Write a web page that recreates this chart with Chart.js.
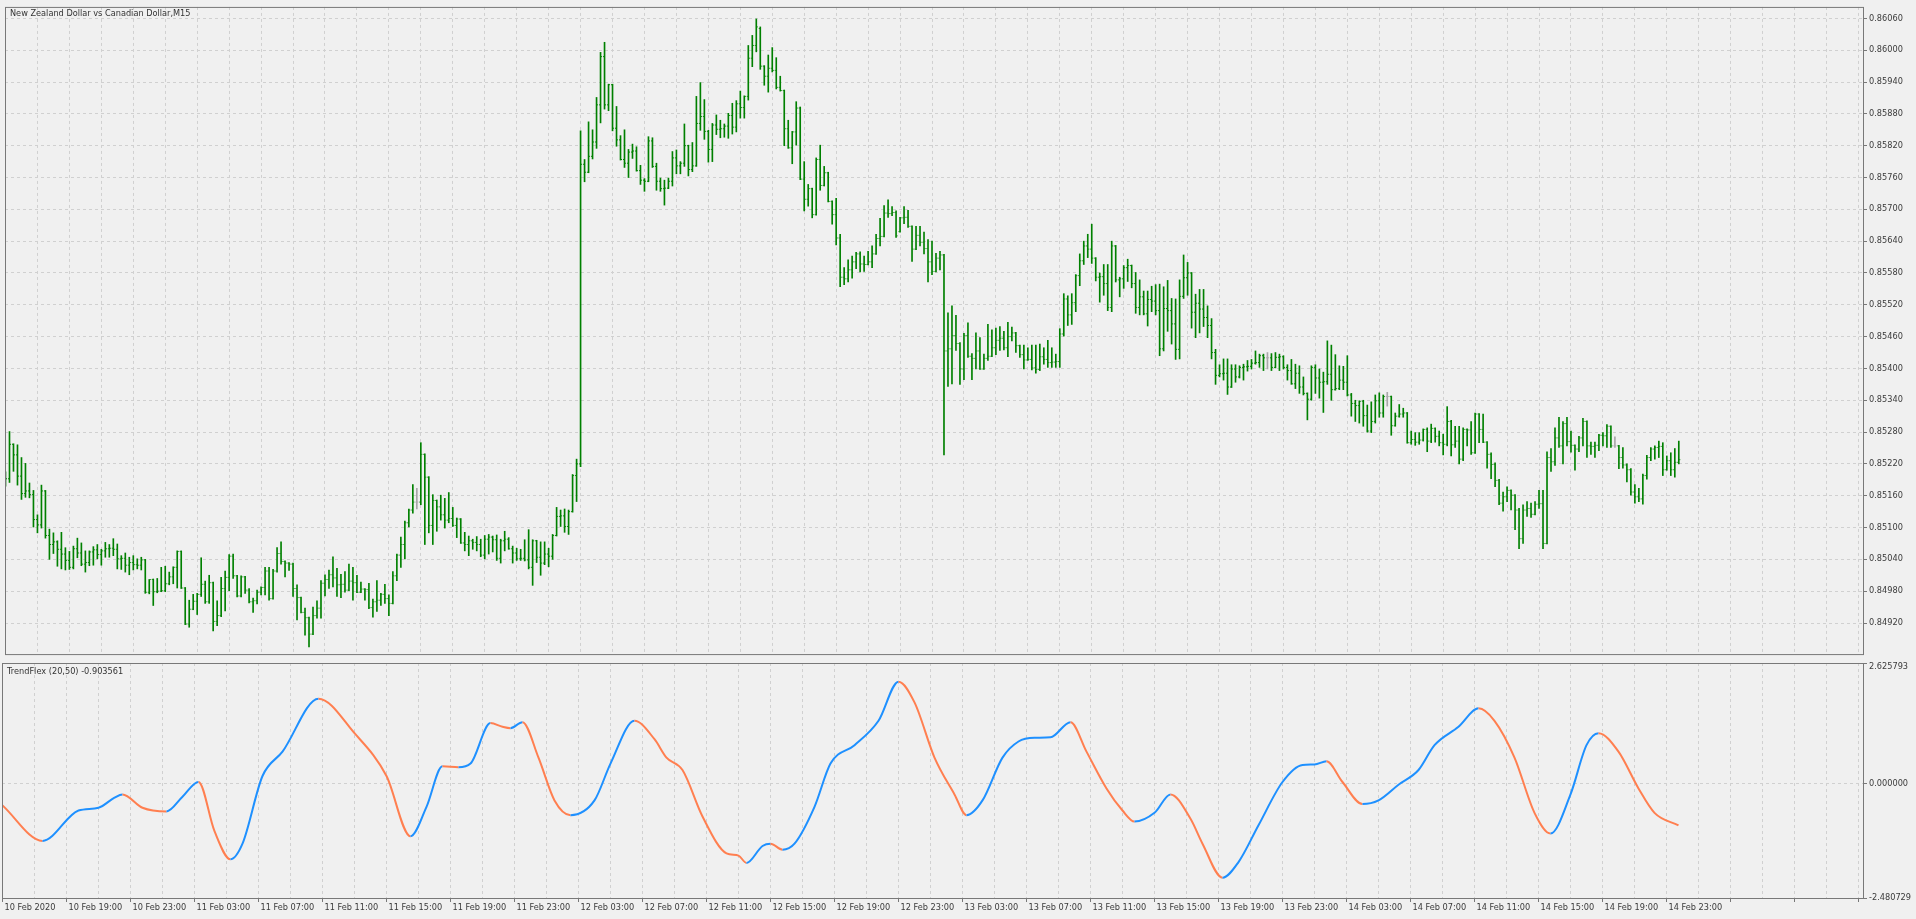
<!DOCTYPE html>
<html>
<head>
<meta charset="utf-8">
<script src="https://cdn.jsdelivr.net/npm/chart.js@4.4.1/dist/chart.umd.min.js"></script>
<style>
  html, body { margin: 0; padding: 0; background: #F0F0F0; overflow: hidden; }
  #wrap { position: relative; width: 1916px; height: 919px; }
  #priceChart { position: absolute; left: 0; top: 0; }
  #trendChart { position: absolute; left: 0; top: 650px; }
</style>
</head>
<body>
<div id="wrap">
  <canvas id="priceChart" width="1916" height="661"></canvas>
  <canvas id="trendChart" width="1916" height="269"></canvas>
</div>
<script>
// NZDCAD M15 bars, 10 Feb 2020 15:00 .. 14 Feb 2020 23:45 (420 bars)
const opens = [
0.85185,0.85192,0.85257,0.85237,0.85197,0.85164,0.85169,0.85162,0.85115,0.85105,0.85169,0.85085,0.85068,0.85073,0.85059,0.85050,0.85038,0.85025,0.85060,0.85052,
0.85031,0.85034,0.85054,0.85058,0.85049,0.85056,0.85060,0.85061,0.85059,0.85041,0.85042,0.85029,0.85034,0.85030,0.85029,0.85039,0.84978,0.85002,0.84979,0.84980,
0.84981,0.84994,0.85007,0.85025,0.85055,0.84986,0.84918,0.84946,0.84961,0.84974,0.84993,0.84960,0.84996,0.84923,0.84934,0.84985,0.85006,0.85046,0.85009,0.84971,
0.85007,0.84982,0.84960,0.84962,0.84978,0.84987,0.85018,0.84966,0.85018,0.85051,0.85036,0.85033,0.85031,0.84985,0.84968,0.84940,0.84930,0.84899,0.84934,0.84948,
0.84995,0.85002,0.85011,0.85005,0.84992,0.84993,0.84982,0.84999,0.84996,0.84978,0.84984,0.84983,0.84949,0.84960,0.84963,0.84974,0.84966,0.84957,0.85009,0.85048,
0.85068,0.85109,0.85133,0.85148,0.85148,0.85238,0.85195,0.85104,0.85151,0.85139,0.85124,0.85114,0.85117,0.85104,0.85116,0.85071,0.85068,0.85075,0.85072,0.85068,
0.85048,0.85078,0.85082,0.85077,0.85042,0.85075,0.85078,0.85060,0.85052,0.85041,0.85042,0.85039,0.85025,0.85075,0.85044,0.85033,0.85050,0.85046,0.85085,0.85121,
0.85122,0.85102,0.85130,0.85198,0.85220,0.85785,0.85770,0.85800,0.85827,0.85897,0.85988,0.85897,0.85935,0.85853,0.85831,0.85794,0.85787,0.85808,0.85810,0.85773,
0.85755,0.85753,0.85829,0.85781,0.85753,0.85739,0.85740,0.85753,0.85797,0.85782,0.85787,0.85820,0.85775,0.85782,0.85862,0.85875,0.85847,0.85813,0.85859,0.85851,
0.85852,0.85857,0.85877,0.85855,0.85899,0.85892,0.85913,0.85985,0.86009,0.86041,0.85970,0.85951,0.85966,0.85962,0.85930,0.85924,0.85852,0.85816,0.85846,0.85891,
0.85757,0.85719,0.85739,0.85690,0.85794,0.85745,0.85769,0.85715,0.85690,0.85646,0.85572,0.85569,0.85586,0.85601,0.85616,0.85597,0.85596,0.85601,0.85616,0.85645,
0.85649,0.85693,0.85692,0.85694,0.85658,0.85684,0.85685,0.85668,0.85625,0.85651,0.85638,0.85626,0.85601,0.85583,0.85608,0.85614,0.85433,0.85437,0.85462,0.85447,
0.85399,0.85462,0.85423,0.85419,0.85433,0.85399,0.85419,0.85423,0.85439,0.85453,0.85457,0.85439,0.85460,0.85467,0.85443,0.85426,0.85416,0.85417,0.85401,0.85398,
0.85422,0.85417,0.85411,0.85412,0.85413,0.85465,0.85531,0.85501,0.85524,0.85575,0.85603,0.85631,0.85625,0.85608,0.85572,0.85573,0.85560,0.85515,0.85631,0.85567,
0.85569,0.85590,0.85594,0.85560,0.85515,0.85535,0.85503,0.85530,0.85527,0.85509,0.85437,0.85513,0.85509,0.85484,0.85436,0.85536,0.85571,0.85580,0.85506,0.85523,
0.85512,0.85496,0.85481,0.85430,0.85387,0.85390,0.85391,0.85365,0.85399,0.85384,0.85402,0.85403,0.85404,0.85410,0.85411,0.85424,0.85420,0.85420,0.85402,0.85421,
0.85422,0.85402,0.85396,0.85371,0.85391,0.85365,0.85353,0.85342,0.85402,0.85382,0.85374,0.85375,0.85389,0.85360,0.85362,0.85378,0.85374,0.85350,0.85334,0.85330,
0.85338,0.85311,0.85282,0.85300,0.85339,0.85316,0.85347,0.85347,0.85292,0.85310,0.85314,0.85316,0.85260,0.85266,0.85261,0.85265,0.85285,0.85263,0.85287,0.85272,
0.85260,0.85257,0.85300,0.85256,0.85263,0.85229,0.85285,0.85284,0.85241,0.85314,0.85285,0.85261,0.85238,0.85219,0.85189,0.85146,0.85158,0.85170,0.85161,0.85133,
0.85079,0.85133,0.85136,0.85125,0.85144,0.85145,0.85070,0.85232,0.85224,0.85269,0.85254,0.85296,0.85262,0.85255,0.85248,0.85269,0.85300,0.85254,0.85253,0.85255,
0.85274,0.85273,0.85291,0.85254,0.85254,0.85232,0.85218,0.85209,0.85167,0.85158,0.85154,0.85198,0.85232,0.85248,0.85251,0.85253,0.85209,0.85226,0.85209,0.85223
];
const highs = [
0.85205,0.85281,0.85258,0.85256,0.85232,0.85221,0.85184,0.85170,0.85124,0.85180,0.85170,0.85097,0.85090,0.85075,0.85091,0.85062,0.85055,0.85065,0.85080,0.85071,
0.85056,0.85056,0.85064,0.85068,0.85059,0.85072,0.85068,0.85079,0.85069,0.85047,0.85052,0.85044,0.85047,0.85041,0.85044,0.85040,0.85002,0.85003,0.85004,0.85025,
0.85027,0.85016,0.85026,0.85056,0.85056,0.84987,0.84963,0.84974,0.84976,0.85043,0.84999,0.85010,0.84997,0.84962,0.85006,0.85018,0.85049,0.85050,0.85010,0.85009,
0.85008,0.84985,0.84967,0.84982,0.84988,0.85025,0.85025,0.85021,0.85062,0.85073,0.85037,0.85034,0.85033,0.84992,0.84969,0.84948,0.84931,0.84950,0.84962,0.85000,
0.85011,0.85020,0.85045,0.85023,0.85012,0.85017,0.85031,0.85025,0.85010,0.84997,0.84985,0.84995,0.84965,0.85000,0.84976,0.84993,0.84973,0.85017,0.85050,0.85082,
0.85112,0.85135,0.85181,0.85174,0.85260,0.85239,0.85196,0.85162,0.85152,0.85161,0.85155,0.85166,0.85138,0.85118,0.85117,0.85091,0.85084,0.85078,0.85083,0.85078,
0.85085,0.85087,0.85084,0.85086,0.85078,0.85093,0.85081,0.85065,0.85061,0.85059,0.85077,0.85096,0.85077,0.85076,0.85073,0.85073,0.85061,0.85087,0.85138,0.85133,
0.85135,0.85133,0.85200,0.85229,0.85848,0.85794,0.85865,0.85850,0.85911,0.85996,0.86015,0.85936,0.85936,0.85894,0.85839,0.85850,0.85813,0.85823,0.85818,0.85783,
0.85758,0.85837,0.85835,0.85787,0.85759,0.85755,0.85759,0.85809,0.85812,0.85790,0.85861,0.85821,0.85826,0.85913,0.85939,0.85907,0.85849,0.85862,0.85878,0.85868,
0.85861,0.85881,0.85900,0.85905,0.85923,0.85914,0.86009,0.86028,0.86059,0.86044,0.85971,0.85991,0.86005,0.85986,0.85951,0.85925,0.85868,0.85847,0.85903,0.85893,
0.85790,0.85747,0.85740,0.85797,0.85821,0.85781,0.85770,0.85716,0.85721,0.85653,0.85590,0.85605,0.85612,0.85619,0.85620,0.85612,0.85621,0.85631,0.85653,0.85683,
0.85707,0.85718,0.85705,0.85697,0.85685,0.85705,0.85698,0.85669,0.85668,0.85668,0.85657,0.85643,0.85640,0.85617,0.85621,0.85615,0.85505,0.85518,0.85500,0.85449,
0.85466,0.85486,0.85428,0.85467,0.85458,0.85427,0.85483,0.85473,0.85476,0.85479,0.85470,0.85487,0.85478,0.85468,0.85444,0.85444,0.85439,0.85444,0.85444,0.85446,
0.85439,0.85453,0.85439,0.85427,0.85475,0.85541,0.85537,0.85541,0.85577,0.85616,0.85640,0.85653,0.85672,0.85609,0.85580,0.85596,0.85596,0.85640,0.85632,0.85572,
0.85594,0.85606,0.85595,0.85581,0.85567,0.85546,0.85546,0.85555,0.85558,0.85559,0.85554,0.85566,0.85532,0.85531,0.85567,0.85614,0.85600,0.85581,0.85540,0.85549,
0.85549,0.85518,0.85494,0.85436,0.85407,0.85418,0.85418,0.85407,0.85407,0.85405,0.85408,0.85415,0.85417,0.85433,0.85427,0.85427,0.85430,0.85428,0.85430,0.85427,
0.85424,0.85407,0.85417,0.85408,0.85405,0.85384,0.85354,0.85405,0.85407,0.85399,0.85393,0.85452,0.85444,0.85426,0.85405,0.85404,0.85424,0.85353,0.85340,0.85339,
0.85340,0.85331,0.85337,0.85350,0.85354,0.85350,0.85355,0.85348,0.85316,0.85332,0.85325,0.85317,0.85282,0.85279,0.85279,0.85286,0.85288,0.85295,0.85288,0.85282,
0.85276,0.85328,0.85302,0.85291,0.85291,0.85288,0.85286,0.85300,0.85316,0.85315,0.85314,0.85262,0.85241,0.85222,0.85191,0.85167,0.85177,0.85171,0.85162,0.85136,
0.85143,0.85149,0.85146,0.85149,0.85170,0.85170,0.85243,0.85249,0.85288,0.85308,0.85300,0.85308,0.85282,0.85256,0.85272,0.85306,0.85301,0.85261,0.85261,0.85276,
0.85279,0.85294,0.85292,0.85271,0.85255,0.85251,0.85220,0.85211,0.85181,0.85174,0.85201,0.85236,0.85251,0.85254,0.85263,0.85260,0.85235,0.85241,0.85249,0.85263
];
const lows = [
0.85178,0.85185,0.85206,0.85180,0.85153,0.85157,0.85156,0.85101,0.85090,0.85099,0.85080,0.85040,0.85051,0.85027,0.85022,0.85020,0.85021,0.85022,0.85043,0.85028,
0.85016,0.85028,0.85029,0.85041,0.85029,0.85044,0.85044,0.85047,0.85022,0.85021,0.85016,0.85011,0.85020,0.85022,0.85020,0.84976,0.84975,0.84953,0.84977,0.84979,
0.84979,0.84992,0.84994,0.84986,0.84985,0.84917,0.84912,0.84945,0.84936,0.84970,0.84957,0.84957,0.84905,0.84915,0.84932,0.84943,0.84981,0.85004,0.84969,0.84969,
0.84976,0.84958,0.84940,0.84956,0.84973,0.84973,0.84963,0.84965,0.85016,0.85031,0.85007,0.85019,0.84970,0.84926,0.84939,0.84897,0.84875,0.84898,0.84929,0.84929,
0.84971,0.84985,0.84988,0.84970,0.84968,0.84978,0.84981,0.84963,0.84977,0.84977,0.84963,0.84947,0.84931,0.84942,0.84953,0.84957,0.84934,0.84956,0.85000,0.85025,
0.85041,0.85101,0.85127,0.85135,0.85143,0.85068,0.85090,0.85068,0.85093,0.85114,0.85099,0.85109,0.85102,0.85081,0.85070,0.85056,0.85047,0.85059,0.85056,0.85045,
0.85041,0.85050,0.85054,0.85038,0.85033,0.85056,0.85059,0.85033,0.85038,0.85038,0.85037,0.85022,0.84991,0.85034,0.85010,0.85030,0.85026,0.85040,0.85084,0.85102,
0.85091,0.85087,0.85129,0.85149,0.85215,0.85752,0.85769,0.85795,0.85815,0.85863,0.85889,0.85886,0.85848,0.85819,0.85793,0.85779,0.85760,0.85796,0.85772,0.85747,
0.85734,0.85752,0.85779,0.85736,0.85734,0.85708,0.85739,0.85744,0.85767,0.85767,0.85781,0.85763,0.85771,0.85781,0.85849,0.85832,0.85789,0.85790,0.85841,0.85835,
0.85836,0.85834,0.85842,0.85846,0.85872,0.85872,0.85906,0.85969,0.85997,0.85964,0.85934,0.85921,0.85959,0.85927,0.85923,0.85820,0.85815,0.85786,0.85821,0.85756,
0.85697,0.85706,0.85684,0.85689,0.85736,0.85744,0.85714,0.85672,0.85633,0.85554,0.85558,0.85563,0.85570,0.85588,0.85582,0.85583,0.85595,0.85590,0.85615,0.85631,
0.85648,0.85685,0.85688,0.85647,0.85657,0.85673,0.85666,0.85602,0.85624,0.85631,0.85616,0.85563,0.85577,0.85582,0.85586,0.85237,0.85366,0.85371,0.85434,0.85370,
0.85379,0.85421,0.85379,0.85399,0.85398,0.85398,0.85415,0.85422,0.85426,0.85434,0.85435,0.85422,0.85452,0.85430,0.85421,0.85399,0.85415,0.85397,0.85391,0.85396,
0.85408,0.85402,0.85402,0.85402,0.85402,0.85461,0.85481,0.85483,0.85507,0.85556,0.85596,0.85609,0.85598,0.85565,0.85525,0.85538,0.85509,0.85507,0.85563,0.85535,
0.85551,0.85564,0.85552,0.85504,0.85501,0.85501,0.85480,0.85507,0.85501,0.85424,0.85433,0.85470,0.85446,0.85417,0.85418,0.85532,0.85538,0.85476,0.85458,0.85467,
0.85479,0.85458,0.85418,0.85370,0.85384,0.85378,0.85351,0.85364,0.85374,0.85382,0.85378,0.85395,0.85399,0.85408,0.85402,0.85396,0.85399,0.85396,0.85401,0.85396,
0.85399,0.85378,0.85370,0.85362,0.85353,0.85350,0.85303,0.85340,0.85353,0.85344,0.85317,0.85370,0.85340,0.85359,0.85360,0.85360,0.85348,0.85310,0.85300,0.85297,
0.85291,0.85280,0.85279,0.85297,0.85308,0.85308,0.85329,0.85274,0.85291,0.85308,0.85308,0.85259,0.85257,0.85255,0.85257,0.85263,0.85243,0.85260,0.85261,0.85254,
0.85237,0.85254,0.85235,0.85251,0.85220,0.85226,0.85254,0.85238,0.85240,0.85260,0.85260,0.85212,0.85192,0.85177,0.85143,0.85131,0.85149,0.85133,0.85096,0.85060,
0.85070,0.85121,0.85119,0.85124,0.85136,0.85060,0.85069,0.85206,0.85217,0.85251,0.85220,0.85254,0.85242,0.85208,0.85243,0.85254,0.85232,0.85238,0.85232,0.85245,
0.85254,0.85251,0.85251,0.85251,0.85211,0.85212,0.85186,0.85161,0.85146,0.85149,0.85144,0.85191,0.85226,0.85229,0.85232,0.85198,0.85208,0.85198,0.85195,0.85220
];
const closes = [
0.85192,0.85257,0.85237,0.85197,0.85164,0.85169,0.85162,0.85115,0.85105,0.85169,0.85085,0.85068,0.85073,0.85059,0.85050,0.85038,0.85025,0.85060,0.85052,0.85031,
0.85034,0.85054,0.85058,0.85049,0.85056,0.85060,0.85061,0.85059,0.85041,0.85042,0.85029,0.85034,0.85030,0.85029,0.85039,0.84978,0.85002,0.84979,0.84980,0.84981,
0.84994,0.85007,0.85025,0.85055,0.84986,0.84918,0.84946,0.84961,0.84974,0.84993,0.84960,0.84996,0.84923,0.84934,0.84985,0.85006,0.85046,0.85009,0.84971,0.85007,
0.84982,0.84960,0.84962,0.84978,0.84987,0.85018,0.84966,0.85018,0.85051,0.85036,0.85033,0.85031,0.84985,0.84968,0.84940,0.84930,0.84899,0.84934,0.84948,0.84995,
0.85002,0.85011,0.85005,0.84992,0.84993,0.84982,0.84999,0.84996,0.84978,0.84984,0.84983,0.84949,0.84960,0.84963,0.84974,0.84966,0.84957,0.85009,0.85048,0.85068,
0.85109,0.85133,0.85148,0.85148,0.85238,0.85195,0.85104,0.85151,0.85139,0.85124,0.85114,0.85117,0.85104,0.85116,0.85071,0.85068,0.85075,0.85072,0.85068,0.85048,
0.85078,0.85082,0.85077,0.85042,0.85075,0.85078,0.85060,0.85052,0.85041,0.85042,0.85039,0.85025,0.85075,0.85044,0.85033,0.85050,0.85046,0.85085,0.85121,0.85122,
0.85102,0.85130,0.85198,0.85220,0.85785,0.85770,0.85800,0.85827,0.85897,0.85988,0.85897,0.85935,0.85853,0.85831,0.85794,0.85787,0.85808,0.85810,0.85773,0.85755,
0.85753,0.85829,0.85781,0.85753,0.85739,0.85740,0.85753,0.85797,0.85782,0.85787,0.85820,0.85775,0.85782,0.85862,0.85875,0.85847,0.85813,0.85859,0.85851,0.85852,
0.85857,0.85877,0.85855,0.85899,0.85892,0.85913,0.85985,0.86009,0.86044,0.85970,0.85951,0.85966,0.85962,0.85930,0.85924,0.85852,0.85816,0.85846,0.85891,0.85757,
0.85719,0.85739,0.85690,0.85794,0.85745,0.85769,0.85715,0.85690,0.85646,0.85572,0.85569,0.85586,0.85601,0.85616,0.85597,0.85596,0.85601,0.85616,0.85645,0.85649,
0.85693,0.85692,0.85694,0.85650,0.85684,0.85685,0.85668,0.85625,0.85651,0.85638,0.85626,0.85601,0.85583,0.85608,0.85614,0.85433,0.85437,0.85462,0.85447,0.85399,
0.85462,0.85423,0.85419,0.85433,0.85399,0.85419,0.85423,0.85439,0.85453,0.85457,0.85439,0.85460,0.85467,0.85443,0.85426,0.85416,0.85417,0.85401,0.85398,0.85422,
0.85417,0.85411,0.85412,0.85413,0.85465,0.85531,0.85501,0.85524,0.85575,0.85603,0.85631,0.85625,0.85608,0.85572,0.85573,0.85560,0.85515,0.85631,0.85567,0.85569,
0.85590,0.85594,0.85560,0.85515,0.85535,0.85503,0.85530,0.85527,0.85509,0.85437,0.85513,0.85509,0.85484,0.85436,0.85536,0.85571,0.85580,0.85506,0.85523,0.85512,
0.85496,0.85481,0.85430,0.85387,0.85390,0.85391,0.85365,0.85399,0.85384,0.85402,0.85403,0.85404,0.85410,0.85411,0.85424,0.85420,0.85420,0.85402,0.85421,0.85422,
0.85402,0.85396,0.85371,0.85391,0.85365,0.85353,0.85342,0.85402,0.85382,0.85374,0.85375,0.85389,0.85360,0.85362,0.85378,0.85374,0.85350,0.85334,0.85330,0.85338,
0.85311,0.85282,0.85300,0.85339,0.85316,0.85347,0.85347,0.85292,0.85310,0.85314,0.85316,0.85260,0.85266,0.85261,0.85265,0.85285,0.85263,0.85287,0.85272,0.85260,
0.85257,0.85300,0.85256,0.85263,0.85229,0.85285,0.85284,0.85241,0.85314,0.85285,0.85261,0.85238,0.85219,0.85189,0.85146,0.85158,0.85170,0.85161,0.85133,0.85079,
0.85133,0.85136,0.85125,0.85144,0.85145,0.85070,0.85232,0.85224,0.85269,0.85254,0.85296,0.85262,0.85255,0.85248,0.85269,0.85300,0.85254,0.85253,0.85255,0.85274,
0.85273,0.85291,0.85254,0.85254,0.85232,0.85218,0.85209,0.85167,0.85158,0.85154,0.85198,0.85232,0.85248,0.85251,0.85253,0.85209,0.85226,0.85209,0.85223,0.85228
];

// TrendFlex (20,50) read at turning points, by bar index
const trendBars = [0, 10, 19, 24, 28, 30, 35, 41, 45, 49, 53, 57, 60, 65, 70, 79, 88, 96, 102, 106,
  110, 114, 117, 122, 125, 127, 130, 134, 138, 142, 148, 152, 158, 163, 166, 170, 175, 181, 184, 186,
  190, 192, 195, 198, 203, 207, 213, 219, 224, 228, 233, 238, 241, 245, 250, 254, 258, 262, 267, 271,
  276, 280, 283, 288, 292, 297, 300, 305, 309, 314, 320, 325, 328, 331, 335, 340, 344, 349, 354, 358,
  364, 369, 373, 378, 383, 387, 392, 396, 399, 404, 409, 413, 419];
const trendValues = [-0.47, -1.24, -0.58, -0.52, -0.30, -0.23, -0.52, -0.60, -0.28, 0.04, -1.03, -1.64, -1.30, 0.17, 0.70, 1.85, 1.10, 0.17, -1.14, -0.50,
  0.38, 0.36, 0.44, 1.32, 1.24, 1.21, 1.34, 0.57, -0.36, -0.68, -0.36, 0.44, 1.37, 0.97, 0.57, 0.30, -0.71, -1.51, -1.56, -1.72,
  -1.35, -1.30, -1.43, -1.30, -0.50, 0.44, 0.84, 1.37, 2.22, 1.77, 0.57, -0.23, -0.68, -0.36, 0.57, 0.92, 1.00, 1.01, 1.34, 0.70,
  -0.10, -0.58, -0.82, -0.63, -0.23, -0.76, -1.30, -2.04, -1.70, -0.90, 0.04, 0.41, 0.42, 0.49, 0.04, -0.44, -0.36, -0.02, 0.30, 0.84,
  1.24, 1.64, 1.37, 0.57, -0.63, -1.08, -0.23, 0.84, 1.10, 0.70, -0.10, -0.63, -0.903561];

const priceTicks = [0.84920, 0.84980, 0.85040, 0.85100, 0.85160, 0.85220, 0.85280, 0.85340, 0.85400, 0.85460,
  0.85520, 0.85580, 0.85640, 0.85700, 0.85760, 0.85820, 0.85880, 0.85940, 0.86000, 0.86060];
const trendTicks = [-2.480729, 0, 2.625793];
const timeLabels = ['10 Feb 2020', '10 Feb 19:00', '10 Feb 23:00', '11 Feb 03:00', '11 Feb 07:00', '11 Feb 11:00',
  '11 Feb 15:00', '11 Feb 19:00', '11 Feb 23:00', '12 Feb 03:00', '12 Feb 07:00', '12 Feb 11:00', '12 Feb 15:00',
  '12 Feb 19:00', '12 Feb 23:00', '13 Feb 03:00', '13 Feb 07:00', '13 Feb 11:00', '13 Feb 15:00', '13 Feb 19:00',
  '13 Feb 23:00', '14 Feb 03:00', '14 Feb 07:00', '14 Feb 11:00', '14 Feb 15:00', '14 Feb 19:00', '14 Feb 23:00'];

const FONT = { family: "'DejaVu Sans', sans-serif", size: 8.2 };
const TEXT = '#3A3A3A';
const GRID = '#D0D0D0';
const FRAME = '#787878';
const BAR = '#008000';
const DOJI = '#A8A8A8';
const UP = '#1E90FF';
const DOWN = '#FF7F50';

// 4 px per bar across the 1861 px plot, bar 0 sitting on the left frame
const X_MIN = -0.125;
const X_MAX = X_MIN + 1861 / 4;
const GRID_STEP = 8;    // 2 hours
const LABEL_STEP = 16;  // 4 hours

function gridTicks(scale) {
  const t = [];
  for (let v = 0; v <= X_MAX; v += GRID_STEP) t.push({ value: v });
  scale.ticks = t;
}

const panelFrame = {
  id: 'panelFrame',
  afterDraw(chart, args, opts) {
    const { ctx, chartArea: a } = chart;
    ctx.save();
    ctx.strokeStyle = FRAME;
    ctx.lineWidth = 1;
    ctx.strokeRect(a.left + 0.5, a.top + 0.5, a.right - a.left, a.bottom - a.top);
    ctx.fillStyle = '#333';
    ctx.font = FONT.size + 'px ' + FONT.family;
    ctx.textBaseline = 'middle';
    ctx.fillText(opts.text, a.left + 5, a.top + opts.dy);
    ctx.restore();
  }
};

const barRanges = highs.map((h, i) => ({ x: i, y: [lows[i], h] }));
const openTicks = opens.map((o, i) => ({ x: i - 0.25, y: o }));
const closeTicks = closes.map((c, i) => ({ x: i + 0.25, y: c }));
const barColor = c => opens[c.dataIndex] === closes[c.dataIndex] ? DOJI : BAR;

new Chart(document.getElementById('priceChart'), {
  type: 'bar',
  data: {
    datasets: [
      { data: barRanges, backgroundColor: barColor, borderWidth: 0, barThickness: 1, grouped: false },
      { type: 'scatter', data: openTicks, pointStyle: 'line', pointRadius: 0.5, pointBorderWidth: 1,
        pointBorderColor: barColor, pointBackgroundColor: barColor },
      { type: 'scatter', data: closeTicks, pointStyle: 'line', pointRadius: 0.5, pointBorderWidth: 1,
        pointBorderColor: barColor, pointBackgroundColor: barColor }
    ]
  },
  options: {
    responsive: false,
    devicePixelRatio: 1,
    animation: false,
    events: [],
    layout: { padding: { left: 2, top: 2, right: 0, bottom: 1 } },
    plugins: {
      legend: { display: false },
      tooltip: { enabled: false },
      panelFrame: { text: 'New Zealand Dollar vs Canadian Dollar,M15', dy: 7 }
    },
    scales: {
      x: {
        type: 'linear', min: X_MIN, max: X_MAX, offset: false,
        afterBuildTicks: gridTicks,
        afterFit: s => { s.height = 0; },
        ticks: { display: false },
        grid: { offset: false, drawTicks: false, color: c => c.tick && c.tick.value > 0 ? GRID : 'transparent' },
        border: { display: false, dash: [3, 3] }
      },
      y: {
        position: 'right', min: 0.848614, max: 0.860817,
        afterBuildTicks: s => { s.ticks = priceTicks.map(v => ({ value: v })); },
        afterFit: s => { s.width = 53; },
        ticks: { callback: v => v.toFixed(5), font: FONT, color: TEXT, padding: 2 },
        grid: { color: GRID, tickColor: FRAME, tickLength: 4 },
        border: { display: false, dash: [3, 3] }
      }
    }
  },
  plugins: [panelFrame]
});

// the top value of the indicator scale is printed just under its tick, as in the terminal
const TOP_LABEL_DROP = 0.08;

new Chart(document.getElementById('trendChart'), {
  type: 'line',
  data: {
    datasets: [{
      data: trendBars.map((b, i) => ({ x: b, y: trendValues[i] })),
      borderWidth: 2,
      pointRadius: 0,
      cubicInterpolationMode: 'monotone',
      segment: { borderColor: c => c.p1.parsed.y >= c.p0.parsed.y ? UP : DOWN }
    }]
  },
  options: {
    responsive: false,
    devicePixelRatio: 1,
    animation: false,
    events: [],
    layout: { padding: { left: 2, top: 13, right: 0, bottom: 0 } },
    plugins: {
      legend: { display: false },
      tooltip: { enabled: false },
      panelFrame: { text: 'TrendFlex (20,50) -0.903561', dy: 9 }
    },
    scales: {
      x: {
        type: 'linear', min: X_MIN, max: X_MAX, offset: false,
        afterBuildTicks: gridTicks,
        afterFit: s => { s.height = 21; },
        ticks: {
          autoSkip: false, maxRotation: 0, minRotation: 0, align: 'start', labelOffset: 2, padding: 1,
          font: FONT, color: TEXT,
          callback: v => v % LABEL_STEP === 0 ? (timeLabels[v / LABEL_STEP] || '') : ''
        },
        grid: {
          offset: false, tickLength: 4,
          color: c => c.tick && c.tick.value > 0 ? GRID : 'transparent',
          tickColor: c => c.tick && c.tick.value % LABEL_STEP === 0 ? FRAME : 'transparent'
        },
        border: { display: false, dash: [3, 3] }
      },
      y: {
        position: 'right', min: trendTicks[0], max: trendTicks[2],
        afterBuildTicks: s => {
          s.ticks = trendTicks.map(v => ({ value: v }));
          s.ticks.push({ value: trendTicks[2] - TOP_LABEL_DROP, labelFor: trendTicks[2] });
        },
        afterFit: s => { s.width = 53; },
        ticks: {
          font: FONT, color: TEXT, padding: 2,
          callback: (v, i, ticks) => {
            const t = ticks[i];
            if (t.labelFor !== undefined) return t.labelFor.toFixed(6);
            return v === trendTicks[2] ? '' : v.toFixed(6);
          }
        },
        grid: {
          color: c => c.tick && c.tick.value === 0 ? GRID : 'transparent',
          tickColor: c => c.tick && c.tick.labelFor === undefined ? FRAME : 'transparent',
          tickLength: 4
        },
        border: { display: false, dash: [3, 3] }
      }
    }
  },
  plugins: [panelFrame]
});
</script>
</body>
</html>
